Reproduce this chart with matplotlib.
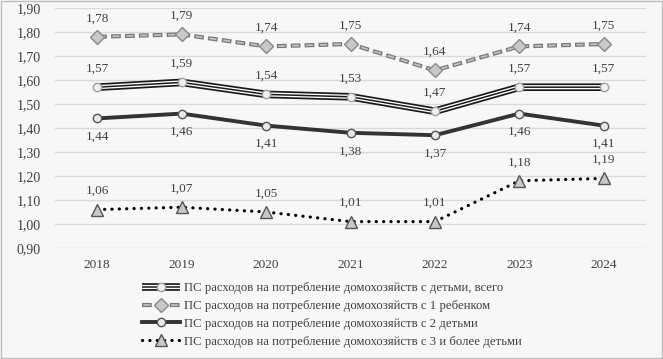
import numpy as np
import matplotlib.pyplot as plt
from matplotlib.lines import Line2D
from matplotlib.patches import Rectangle
from matplotlib.legend_handler import HandlerTuple

plt.rcParams['font.family'] = ['Liberation Serif', 'DejaVu Serif']
plt.rcParams['lines.scale_dashes'] = False

years = ['2018', '2019', '2020', '2021', '2022', '2023', '2024']
total = [1.57, 1.59, 1.54, 1.53, 1.47, 1.57, 1.57]
one_child = [1.78, 1.79, 1.74, 1.75, 1.64, 1.74, 1.75]
two_children = [1.44, 1.46, 1.41, 1.38, 1.37, 1.46, 1.41]
three_plus = [1.06, 1.07, 1.05, 1.01, 1.01, 1.18, 1.19]

labels = [
    'ПС расходов на потребление домохозяйств с детьми, всего',
    'ПС расходов на потребление домохозяйств с 1 ребенком',
    'ПС расходов на потребление домохозяйств с 2 детьми',
    'ПС расходов на потребление домохозяйств с 3 и более детьми',
]

fig = plt.figure(figsize=(6.63, 3.59), dpi=100)
fig.patch.set_facecolor('#f7f7f7')
fig.patches.append(Rectangle((0.002, 0.003), 0.996, 0.994, transform=fig.transFigure,
                             fill=False, edgecolor='#bdbdbd', linewidth=1))
ax = fig.add_axes([55 / 663, 1 - 248 / 359, 591 / 663, 240 / 359])
ax.set_facecolor('#f7f7f7')
x = np.arange(len(years))
txt = '#404040'

# стили линий (используются и на графике, и в легенде)
st_total = [dict(color='#1a1a1a', lw=5.5, solid_capstyle='butt'),
            dict(color='white', lw=3.0, solid_capstyle='butt'),
            dict(color='#1a1a1a', lw=1.1, solid_capstyle='butt')]
mk_total = dict(marker='o', ms=6, mfc='#f0f0f0', mec='#a0a0a0', mew=1)
st_one = [dict(color='#7a7a7a', lw=3.0, ls=(0, (7, 3)), dash_capstyle='butt'),
          dict(color='#c4c4c4', lw=1.2, ls=(9, (5, 5)), dash_capstyle='butt')]
mk_one = dict(marker='D', ms=7, mfc='#c8c8c8', mec='#8a8a8a', mew=1)
st_two = [dict(color='#333333', lw=2.8)]
mk_two = dict(marker='o', ms=6, mfc='#e8e8e8', mec='#555555', mew=1)
st_three = [dict(color='black', lw=2.3, ls=(0, (0.1, 5.2)), dash_capstyle='round')]
mk_three = dict(marker='^', ms=8, mfc='#c8c8c8', mec='#555555', mew=1)

series = [(total, st_total, mk_total), (one_child, st_one, mk_one),
          (two_children, st_two, mk_two), (three_plus, st_three, mk_three)]

for vals, styles, mk in series:
    for i, st in enumerate(styles):
        ax.plot(x, vals, zorder=3 + i * 0.1, **st)
    ax.plot(x, vals, ls='none', zorder=4, **mk)

def fmt(v):
    return f'{v:.2f}'.replace('.', ',')

for vals, below in [(total, False), (one_child, False), (two_children, True), (three_plus, False)]:
    for xi, v in zip(x, vals):
        ax.annotate(fmt(v), (xi, v), xytext=(0, -9 if below else 9), textcoords='offset points',
                    ha='center', va='top' if below else 'bottom', fontsize=9.5, color=txt)

ax.set_xlim(-0.5, len(years) - 0.5)
ax.set_ylim(0.9, 1.9)
ax.set_yticks(np.arange(0.9, 1.91, 0.1))
ax.set_yticklabels([fmt(t) for t in np.arange(0.9, 1.91, 0.1)], fontsize=10, color=txt)
ax.set_xticks(x)
ax.set_xticklabels(years, fontsize=9.5, color=txt)
ax.tick_params(length=0, pad=8)
ax.tick_params(axis='y', pad=10)
ax.grid(axis='y', color='#d9d9d9', lw=1)
ax.set_axisbelow(True)
for s in ax.spines.values():
    s.set_visible(False)

# в легенде маркер ставим на последнюю линию набора
handles = []
for vals, styles, mk in series:
    hs = [Line2D([], [], **st) for st in styles[:-1]]
    hs.append(Line2D([], [], **styles[-1], **mk))
    handles.append(tuple(hs))

fig.legend(handles, labels,
           handler_map={tuple: HandlerTuple(ndivide=1, pad=0)},
           loc='upper center', bbox_to_anchor=(0.5, 1 - 276 / 359), frameon=False,
           fontsize=9.2, labelcolor=txt, handlelength=3.0, handletextpad=0.3,
           labelspacing=0.45, borderpad=0, numpoints=1)

fig.savefig('out.png', dpi=100, facecolor=fig.get_facecolor())
